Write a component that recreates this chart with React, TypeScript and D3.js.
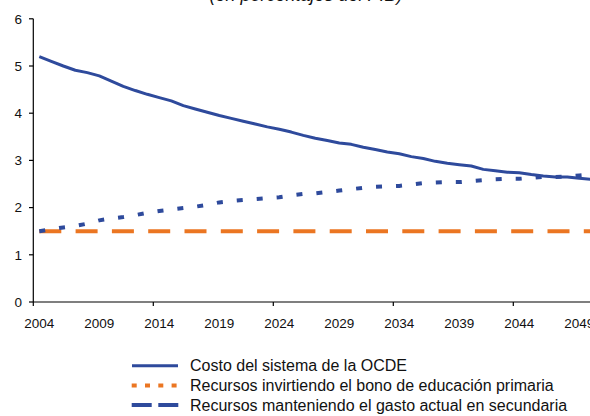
import React from "react";
import * as d3 from "d3";

const years: number[] = d3.range(2004, 2051);
const costoOCDE: number[] = [
  5.2, 5.1, 5.0, 4.91, 4.86, 4.79, 4.68, 4.57, 4.48, 4.4, 4.33, 4.26, 4.16, 4.09, 4.02, 3.95,
  3.89, 3.83, 3.77, 3.71, 3.66, 3.6, 3.53, 3.47, 3.42, 3.37, 3.34, 3.28, 3.23, 3.18, 3.14,
  3.08, 3.04, 2.98, 2.94, 2.91, 2.88, 2.81, 2.78, 2.75, 2.74, 2.7, 2.67, 2.65, 2.65, 2.62, 2.6,
];
const recursosSecundaria: number[] = [
  1.5, 1.54, 1.58, 1.61, 1.66, 1.73, 1.77, 1.8, 1.84, 1.89, 1.93, 1.96, 1.99, 2.02, 2.06, 2.11,
  2.14, 2.16, 2.18, 2.2, 2.22, 2.26, 2.29, 2.3, 2.33, 2.36, 2.39, 2.42, 2.44, 2.45, 2.46,
  2.49, 2.52, 2.53, 2.54, 2.54, 2.56, 2.58, 2.6, 2.61, 2.61, 2.63, 2.65, 2.65, 2.66, 2.68, 2.7,
];
const recursosPrimaria: number[] = years.map(() => 1.5);
const yTicks: number[] = [0, 1, 2, 3, 4, 5, 6];
const xLabelYears: number[] = [2004, 2009, 2014, 2019, 2024, 2029, 2034, 2039, 2044, 2049];
const xTickYears: number[] = [2004, 2014, 2024, 2034, 2044];
const legendLabels: string[] = [
  "Costo del sistema de la OCDE",
  "Recursos invirtiendo el bono de educación primaria",
  "Recursos manteniendo el gasto actual en secundaria",
];
const title = "(en porcentajes del PIB)";

const BLUE = "#2E4A9C";
const ORANGE = "#EB7622";
const FONT = "'Liberation Sans', Arial, Helvetica, sans-serif";

export default function App() {
  const W = 590, H = 416;
  const x = d3.scaleBand<number>().domain(d3.range(2004, 2054)).range([33.3, 633.3]).paddingInner(0).paddingOuter(0);
  const y = d3.scaleLinear().domain([0, 6]).range([302, 18.8]);
  const cx = (yr: number) => (x(yr) as number) + x.bandwidth() / 2;
  const line = d3.line<number>().x((_, i) => cx(years[i])).y((d) => y(d));

  return (
    <svg width={W} height={H} style={{ position: "absolute", left: 0, top: 0, background: "#fff" }} fontFamily={FONT}>
      <text x={306} y={0.5} textAnchor="middle" fontSize={18} fontStyle="italic" fill="#111">{title}</text>
      {/* axes */}
      <line x1={33.3} x2={33.3} y1={y(6)} y2={y(0)} stroke="#000" strokeWidth={1.2} />
      <line x1={33.3} x2={W} y1={y(0)} y2={y(0)} stroke="#000" strokeWidth={1.2} />
      {yTicks.map((t) => (
        <g key={t}>
          <line x1={29} x2={33.3} y1={y(t)} y2={y(t)} stroke="#000" strokeWidth={1.2} />
          <text x={22} y={y(t)} dy="0.35em" textAnchor="end" fontSize={13.5} fill="#111">{t}</text>
        </g>
      ))}
      {xTickYears.map((t) => (
        <line key={t} x1={x(t) as number} x2={x(t) as number} y1={y(0)} y2={y(0) + 4} stroke="#000" strokeWidth={1.2} />
      ))}
      {xLabelYears.map((t) => (
        <text key={t} x={cx(t)} y={328} textAnchor="middle" fontSize={13.5} fill="#111">{t}</text>
      ))}
      {/* series */}
      <path d={line(recursosPrimaria) || ""} fill="none" stroke={ORANGE} strokeWidth={4} strokeDasharray="22,14.3" />
      <path d={line(recursosSecundaria) || ""} fill="none" stroke={BLUE} strokeWidth={4} strokeDasharray="6,14" />
      <path d={line(costoOCDE) || ""} fill="none" stroke={BLUE} strokeWidth={3} strokeLinejoin="round" />
      {/* legend */}
      {legendLabels.map((lab, i) => {
        const ly = 365.7 + i * 19.7;
        return (
          <g key={lab}>
            {i === 0 && <line x1={132} x2={178} y1={ly} y2={ly} stroke={BLUE} strokeWidth={3} />}
            {i === 1 && <line x1={131.7} x2={178} y1={ly} y2={ly} stroke={ORANGE} strokeWidth={4} strokeDasharray="5,8.3" />}
            {i === 2 && <line x1={131.7} x2={178.3} y1={ly} y2={ly} stroke={BLUE} strokeWidth={4} strokeDasharray="20,6.6" />}
            <text x={190} y={ly} dy="0.36em" fontSize={16} fill="#111">{lab}</text>
          </g>
        );
      })}
    </svg>
  );
}
